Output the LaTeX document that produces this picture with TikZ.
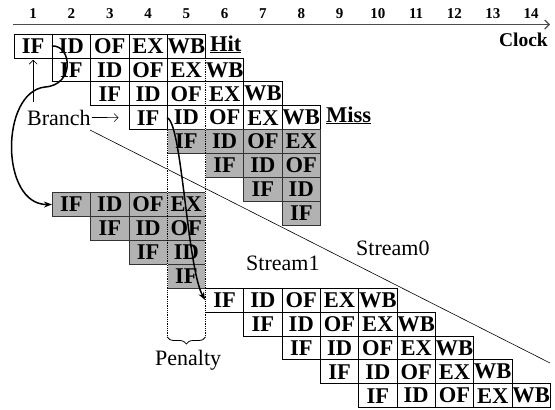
\documentclass[tikz,border=0pt]{standalone}
\usepackage{fontspec}
\setmainfont{Liberation Serif}
\usetikzlibrary{arrows.meta,decorations.pathreplacing}
\newcommand\piperow[5]{%
  \foreach \s [count=\k from 0] in {#4}{%
    \pgfmathsetmacro\xc{33.15+38.3*(#3-1+\k)}%
    \node[#5] (#1-\k) at (\xc,#2) {\s};
  }}
\begin{document}
\begin{tikzpicture}[x=1pt,y=-1pt,
  stage/.style={draw=black, line width=0.7pt, minimum width=38.3pt, minimum height=23.9pt, inner sep=0pt, font=\fontsize{22.5}{22.5}\selectfont\bfseries},
  wbox/.style={stage, fill=white},
  gbox/.style={stage, fill=black!30, draw=black!80},
  lbl/.style={font=\fontsize{22}{22}\selectfont, inner sep=1pt},
  num/.style={font=\fontsize{15}{15}\selectfont\bfseries, inner sep=0pt, anchor=base},
  curv/.style={line width=1.5pt, -{Stealth[length=8pt,width=6pt]}},
  thinl/.style={line width=0.6pt},
  barb/.style={-{Straight Barb[length=4pt,width=8pt]}}
]
\useasboundingbox (0,0) rectangle (555,410);

% clock axis
\coordinate (axs) at (13,24.5);
\coordinate (axe) at (550,24.5);
\draw[line width=1.1pt, black!70, -{Straight Barb[length=4.5pt,width=9pt]}] (axs) -- (axe);
\foreach \n in {1,...,14} \node[num] (n\n) at ({33.15+38.3*(\n-1)},18) {\n};
\node[font=\fontsize{19.5}{19.5}\selectfont\bfseries, anchor=base east, inner sep=0pt] (clock) at (548,46) {Clock};

% diagonal line
\coordinate (d1) at (90,130);
\coordinate (d2) at (550,363);
\draw[thinl] (d1) -- (d2);

% stream 0
\piperow{r1}{45.95}{1}{IF,ID,OF,EX,WB}{wbox}
\piperow{r2}{69.85}{2}{IF,ID,OF,EX,WB}{wbox}
\piperow{r3}{93.75}{3}{IF,ID,OF,EX,WB}{wbox}
\piperow{r4}{117.65}{4}{IF,ID,OF,EX,WB}{wbox}
\piperow{r5}{141.55}{5}{IF,ID,OF,EX}{gbox}
\piperow{r6}{165.45}{6}{IF,ID,OF}{gbox}
\piperow{r7}{189.35}{7}{IF,ID}{gbox}
\piperow{r8}{213.25}{8}{IF}{gbox}

% stream 1
\piperow{s1}{204.45}{2}{IF,ID,OF,EX}{gbox}
\piperow{s2}{228.35}{3}{IF,ID,OF}{gbox}
\piperow{s3}{252.25}{4}{IF,ID}{gbox}
\piperow{s4}{276.15}{5}{IF}{gbox}
\piperow{s5}{300.05}{6}{IF,ID,OF,EX,WB}{wbox}
\piperow{s6}{323.95}{7}{IF,ID,OF,EX,WB}{wbox}
\piperow{s7}{347.85}{8}{IF,ID,OF,EX,WB}{wbox}
\piperow{s8}{371.75}{9}{IF,ID,OF,EX,WB}{wbox}
\piperow{s9}{395.65}{10}{IF,ID,OF,EX,WB}{wbox}

% dotted penalty lines (erase solid borders first)
\draw[white, line width=0.9pt] (205.5,58) -- (205.5,130);
\draw[black!30, line width=0.9pt] (205.5,130) -- (205.5,153.6);
\draw[white, line width=0.9pt] (205.5,153.6) -- (205.5,337);
\draw[white, line width=0.9pt] (167.2,130) -- (167.2,192.5);
\draw[black!30, line width=0.9pt] (167.2,192.5) -- (167.2,264.2);
\draw[white, line width=0.9pt] (167.2,264.2) -- (167.2,337);
\draw[densely dotted, line width=0.8pt] (205.5,58) -- (205.5,337);
\draw[densely dotted, line width=0.8pt] (167.2,130) -- (167.2,337);
\draw[line width=0.8pt, decorate, decoration={brace, amplitude=7pt}] (205.5,337) -- (167.2,337);

% labels
\node[font=\fontsize{22.5}{22.5}\selectfont\bfseries, anchor=base west, inner sep=0pt] (hit) at (210,51) {\underline{Hit}};
\node[font=\fontsize{22.5}{22.5}\selectfont\bfseries, anchor=base west, inner sep=0pt] (miss) at (326,122) {\underline{Miss}};
\node[lbl, anchor=base west] (branch) at (26,125) {Branch};
\node[lbl, anchor=base west] (st0) at (355,255) {Stream0};
\node[lbl, anchor=base west] (st1) at (245,270) {Stream1};
\node[lbl, anchor=base west] (pen) at (154,365) {Penalty};

% branch arrows
\draw[thinl, barb, shorten >=10pt] (branch.east) -- (r4-0.west);
\draw[thinl, barb, shorten <=7pt, shorten >=1.5pt] (branch.north -| r1-0.south) -- (r1-0.south);

% curved arrows
\draw[curv] (r1-1.west) .. controls (72,45) and (75,85) .. (45,87) .. controls (0,92) and (0,205) .. (s1-0.west);
\draw[curv] (r4-1.west) .. controls (182,121) and (187,268) .. (s5-0.west);
\end{tikzpicture}
\end{document}
